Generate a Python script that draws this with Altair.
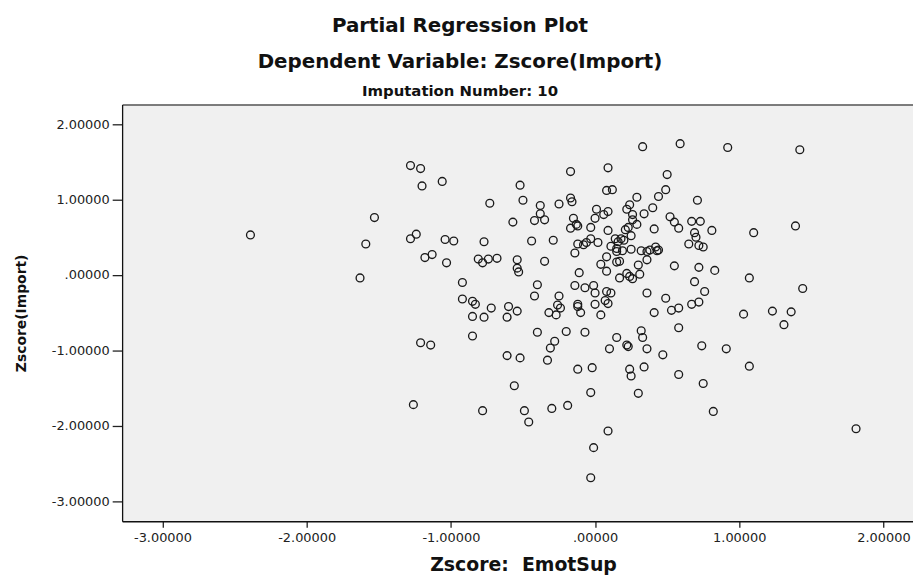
import altair as alt
import pandas as pd

# Partial regression plot: Zscore: EmotSup (x) vs Zscore(Import) (y)
x_vals = [
    -2.39, -1.63, -1.59, -1.53, -1.28, -1.21, -1.20, -1.06, -0.73, -0.57,
    -1.24, -1.28, -1.04, -0.98, -0.77, -1.13, -1.18, -1.03, -0.81, -0.78,
    -0.74, -0.68, -0.92, -0.92, -0.85, -0.83, -0.72, -0.60, -0.54, -0.85,
    -0.77, -0.61, -0.85, -1.21, -1.14, -0.61, -0.56, -1.26, -0.78, -0.52,
    -0.17, -0.50, -0.38, -0.25, -0.17, -0.16, -0.42, -0.38, -0.35, -0.15,
    -0.17, -0.13, -0.12, -0.03, 0.01, 0.00, -0.44, -0.29, -0.03, -0.08,
    -0.06, -0.14, -0.54, -0.54, -0.53, -0.35, -0.11, -0.40, -0.14, -0.07,
    -0.01, 0.00, -0.42, -0.25, -0.26, -0.24, -0.32, -0.27, -0.12, -0.12,
    -0.10, 0.00, -0.40, -0.20, -0.07, -0.28, -0.31, -0.52, -0.33, -0.12,
    -0.02, -0.03, -0.49, -0.46, -0.30, -0.19, -0.01, -0.03, 0.09, 0.33,
    0.59, 0.92, 1.42, 0.09, 0.50, 0.08, 0.12, 0.49, 0.44, 0.29,
    0.71, 0.24, 0.22, 0.40, 0.09, 0.06, 0.34, 0.26, 0.26, 0.52,
    0.55, 0.58, 0.67, 0.73, 0.81, 1.10, 1.39, 0.29, 0.23, 0.21,
    0.41, 0.09, 0.25, 0.69, 0.70, 0.14, 0.18, 0.16, 0.20, -0.12,
    0.02, 0.11, 0.15, 0.15, 0.25, 0.19, 0.32, 0.36, 0.38, 0.42,
    0.44, 0.43, 0.65, 0.72, 0.75, 0.08, 0.36, 0.04, 0.17, 0.15,
    0.30, 0.55, 0.72, 0.83, 1.07, 1.44, 0.08, 0.22, 0.24, 0.26,
    0.31, 0.17, 0.69, 0.76, 0.08, 0.11, 0.36, 0.49, 0.07, 0.09,
    0.04, 0.41, 0.53, 0.58, 0.67, 0.72, 1.03, 1.23, 1.36, 1.31,
    0.15, 0.32, 0.33, 0.58, 0.22, 0.23, 0.10, 0.36, 0.47, 0.74,
    0.91, 0.24, 0.25, 0.34, 0.58, 1.07, 0.75, 0.30, 0.82, 1.81,
]
y_vals = [
    0.53, -0.04, 0.41, 0.76, 1.45, 1.41, 1.18, 1.24, 0.95, 0.70,
    0.54, 0.48, 0.47, 0.45, 0.44, 0.27, 0.23, 0.16, 0.21, 0.16,
    0.21, 0.22, -0.10, -0.32, -0.35, -0.39, -0.44, -0.42, -0.48, -0.55,
    -0.56, -0.56, -0.81, -0.90, -0.93, -1.07, -1.47, -1.72, -1.80, 1.19,
    1.37, 0.99, 0.92, 0.94, 1.02, 0.97, 0.72, 0.81, 0.73, 0.75,
    0.62, 0.67, 0.65, 0.63, 0.87, 0.75, 0.45, 0.46, 0.48, 0.40,
    0.43, 0.29, 0.20, 0.09, 0.04, 0.18, 0.03, -0.13, -0.14, -0.17,
    -0.14, -0.24, -0.28, -0.28, -0.40, -0.44, -0.50, -0.53, -0.39, -0.42,
    -0.50, -0.39, -0.76, -0.75, -0.76, -0.88, -0.97, -1.10, -1.13, -1.25,
    -1.23, -1.56, -1.80, -1.95, -1.77, -1.73, -2.29, -2.69, -2.07, 1.70,
    1.74, 1.69, 1.66, 1.42, 1.33, 1.12, 1.13, 1.13, 1.04, 1.03,
    0.99, 0.93, 0.87, 0.89, 0.84, 0.80, 0.81, 0.80, 0.73, 0.77,
    0.70, 0.62, 0.71, 0.71, 0.59, 0.56, 0.65, 0.67, 0.63, 0.60,
    0.61, 0.59, 0.52, 0.56, 0.50, 0.48, 0.48, 0.44, 0.46, 0.41,
    0.43, 0.38, 0.35, 0.31, 0.34, 0.32, 0.32, 0.31, 0.33, 0.37,
    0.33, 0.32, 0.41, 0.39, 0.37, 0.24, 0.20, 0.14, 0.18, 0.17,
    0.13, 0.12, 0.10, 0.06, -0.04, -0.18, 0.05, 0.02, -0.02, -0.05,
    0.01, -0.04, -0.09, -0.22, -0.22, -0.24, -0.24, -0.31, -0.34, -0.38,
    -0.53, -0.50, -0.47, -0.44, -0.39, -0.36, -0.52, -0.48, -0.49, -0.66,
    -0.83, -0.74, -0.83, -0.70, -0.93, -0.95, -0.98, -0.98, -1.06, -0.94,
    -0.98, -1.25, -1.34, -1.22, -1.32, -1.21, -1.44, -1.57, -1.81, -2.04,
]
tick_values = [-3, -2, -1, 0, 1, 2]

df = pd.DataFrame({"x": x_vals, "y": y_vals})

label_expr = "datum.value == 0 ? '.00000' : (datum.value < 0 ? '-' : '') + format(abs(datum.value), '.5f')"

axis_common = dict(
    grid=False,
    labelFont="DejaVu Sans",
    labelFontSize=13,
    labelColor="#222222",
    tickColor="#222222",
    domainColor="#111111",
    domainWidth=1.3,
    tickWidth=1.3,
    titleFont="DejaVu Sans",
    titleFontWeight="bold",
    titleColor="#111111",
    labelExpr=label_expr,
    values=tick_values,
)

x_scale = alt.Scale(domain=[-3.28, 2.205], nice=False, zero=False)
y_scale = alt.Scale(domain=[-3.266, 2.26], nice=False, zero=False)

points = (
    alt.Chart(df)
    .mark_point(shape="circle", filled=False, size=62, strokeWidth=1.35,
                color="#1a1a1a", opacity=1)
    .encode(
        x=alt.X("x:Q", scale=x_scale,
                axis=alt.Axis(title="Zscore:\u00a0 EmotSup", tickSize=6, labelPadding=4,
                              titleFontSize=19, titleX=404, titleY=44,
                              titleBaseline="middle", titleAlign="center",
                              **axis_common)),
        y=alt.Y("y:Q", scale=y_scale,
                axis=alt.Axis(title="Zscore(Import)", tickSize=10, labelPadding=3,
                              titleFontSize=14, titleX=-101, titleY=210,
                              titleAngle=270, titleBaseline="middle",
                              titleAlign="center", **axis_common)),
    )
)

# top frame line of the plot area (domain of a label-less top axis)
top_frame = (
    alt.Chart(df)
    .mark_point(opacity=0)
    .encode(
        x=alt.X("x:Q", scale=x_scale,
                axis=alt.Axis(orient="top", labels=False, ticks=False, grid=False,
                              title=None, domainColor="#555555", domainWidth=1.5)),
        y=alt.Y("y:Q", scale=y_scale),
    )
)

chart = (
    alt.layer(points, top_frame)
    .resolve_axis(x="independent")
    .properties(
        width=797,
        height=420,
        background="white",
        padding={"left": 115, "top": 95, "right": 0, "bottom": 56},
        autosize=alt.AutoSizeParams(type="none"),
        title=alt.TitleParams(
            text=["Partial Regression Plot", "Dependent Variable: Zscore(Import)"],
            subtitle="Imputation Number: 10",
            font="DejaVu Sans", fontSize=20, fontWeight="bold", color="#111111",
            lineHeight=36,
            subtitleFont="DejaVu Sans", subtitleFontSize=15,
            subtitleFontWeight="bold", subtitleColor="#111111",
            subtitlePadding=12,
            anchor="middle", dx=-58, offset=6,
        ),
    )
    .configure_view(fill="#f0f0f0", strokeWidth=0)
)

chart.save("out.html", embed_options={"renderer": "svg", "actions": False})
